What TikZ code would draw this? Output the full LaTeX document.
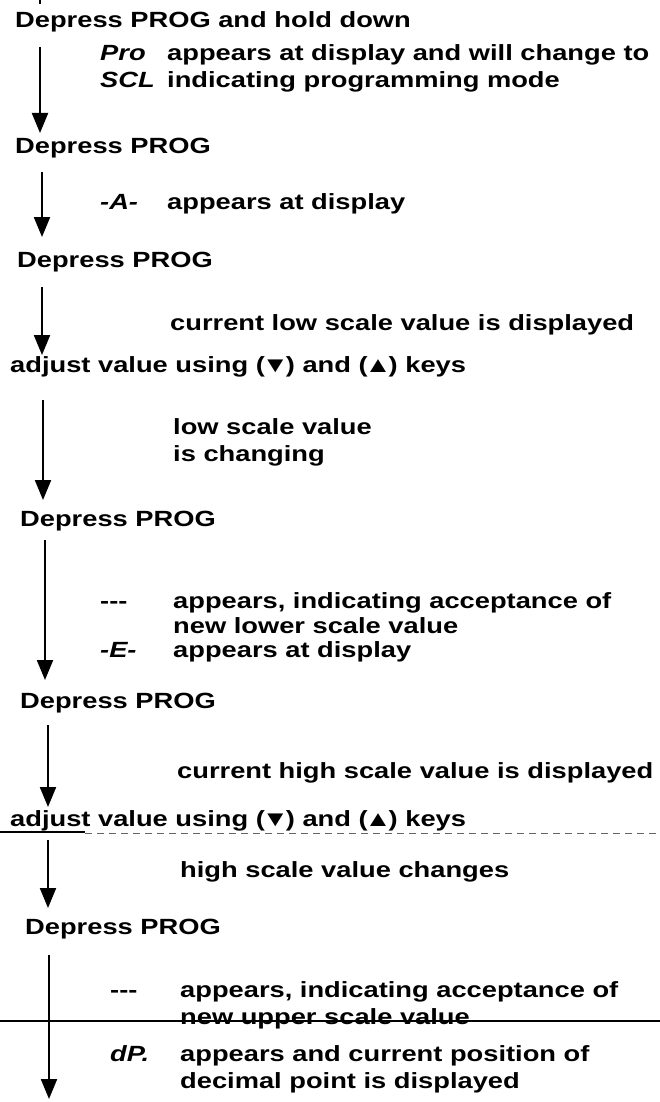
\documentclass[tikz,border=0pt]{standalone}
\usepackage{fontspec}
\setmainfont{Liberation Sans}[FakeStretch=1.24]
\usepackage{tikz}
\usetikzlibrary{arrows.meta}

\newcommand{\keydown}{(\kern-3pt▼\kern-3pt)}
\newcommand{\keyup}{(\kern-3pt▲\kern-3pt)}

\begin{document}
\begin{tikzpicture}[x=1pt,y=1pt]
  \tikzset{
    StepStyle/.style = {
      anchor = base west,
      inner sep = 0pt,
      font = \fontsize{22}{26.5}\selectfont\bfseries},
    NoteStyle/.style = {StepStyle},
    CodeStyle/.style = {StepStyle, font = \fontsize{22}{26.5}\selectfont\bfseries\itshape},
    FlowStyle/.style = {line width = 2.2pt, -{Triangle[width=16pt,length=20pt]}},
    ScanStyle/.style = {line width = 1.4pt}}
  \useasboundingbox (0,0) rectangle (660,-1102);
  \coordinate (top) at (0,1);
  \coordinate (stop) at (0,-1099);
  \node[StepStyle] (s1) at (15,-28) {Depress PROG and hold down};
  \node[CodeStyle] (c1) at (100,-61) {Pro};
  \node[NoteStyle] (n1) at (167,-61) {appears at display and will change to};
  \node[CodeStyle] (c2) at (100,-88) {SCL};
  \node[NoteStyle] (n2) at (167,-88) {indicating programming mode};
  \node[StepStyle] (s2) at (15,-154) {Depress PROG};
  \node[CodeStyle] (c3) at (100,-209) {-A-};
  \node[NoteStyle] (n3) at (167,-209) {appears at display};
  \node[StepStyle] (s3) at (17,-267) {Depress PROG};
  \node[NoteStyle] (n4) at (170,-330) {current low scale value is displayed};
  \node[StepStyle] (s4) at (10,-372) {adjust value using \keydown{} and \keyup{} keys};
  \node[NoteStyle] (n5) at (173,-434) {low scale value};
  \node[NoteStyle] (n6) at (173,-461) {is changing};
  \node[StepStyle] (s5) at (20,-526) {Depress PROG};
  \node[NoteStyle] (c4) at (100,-608) {-{}-{}-};
  \node[NoteStyle] (n7) at (173,-608) {appears, indicating acceptance of};
  \node[NoteStyle] (n8) at (173,-633) {new lower scale value};
  \node[CodeStyle] (c5) at (100,-657) {-E-};
  \node[NoteStyle] (n9) at (173,-657) {appears at display};
  \node[StepStyle] (s6) at (20,-708) {Depress PROG};
  \node[NoteStyle] (n10) at (177,-778) {current high scale value is displayed};
  \node[StepStyle] (s7) at (10,-826) {adjust value using \keydown{} and \keyup{} keys};
  \node[NoteStyle] (n11) at (180,-877) {high scale value changes};
  \node[StepStyle] (s8) at (25,-934) {Depress PROG};
  \node[NoteStyle] (c6) at (110,-997) {-{}-{}-};
  \node[NoteStyle] (n12) at (180,-997) {appears, indicating acceptance of};
  \node[NoteStyle] (n13) at (180,-1024) {new upper scale value};
  \node[CodeStyle] (c7) at (110,-1061) {dP.};
  \node[NoteStyle] (n14) at (180,-1061) {appears and current position of};
  \node[NoteStyle] (n15) at (180,-1088) {decimal point is displayed};
  \draw[FlowStyle, -] ([xshift=25pt]s1.base west |- top) -- ([xshift=25pt,yshift=24pt]s1.base west);
  \draw[FlowStyle] ([xshift=25pt,yshift=-19pt]s1.base west) -- ([xshift=25pt,yshift=21pt]s1.base west |- s2.base);
  \draw[FlowStyle] ([xshift=27pt,yshift=-18pt]s2.base west) -- ([xshift=27pt,yshift=30pt]s2.base west |- s3.base);
  \draw[FlowStyle] ([xshift=25pt,yshift=-20pt]s3.base west) -- ([xshift=25pt,yshift=17pt]s3.base west |- s4.base);
  \draw[FlowStyle] ([xshift=33pt,yshift=-28pt]s4.base west) -- ([xshift=33pt,yshift=26pt]s4.base west |- s5.base);
  \draw[FlowStyle] ([xshift=25pt,yshift=-14pt]s5.base west) -- ([xshift=25pt,yshift=28pt]s5.base west |- s6.base);
  \draw[FlowStyle] ([xshift=28pt,yshift=-17pt]s6.base west) -- ([xshift=28pt,yshift=19pt]s6.base west |- s7.base);
  \draw[FlowStyle] ([xshift=38pt,yshift=-14pt]s7.base west) -- ([xshift=38pt,yshift=26pt]s7.base west |- s8.base);
  \draw[FlowStyle] ([xshift=24pt,yshift=-21pt]s8.base west) -- ([xshift=24pt]s8.base west |- stop);
  \draw[ScanStyle] (0,-832) -- (85,-832);
  \draw[ScanStyle, line width=0.8pt, dash pattern=on 7pt off 5pt, black!60] (85,-833) -- (660,-833);
  \draw[ScanStyle] (0,-1021) -- (660,-1021);
\end{tikzpicture}
\end{document}
